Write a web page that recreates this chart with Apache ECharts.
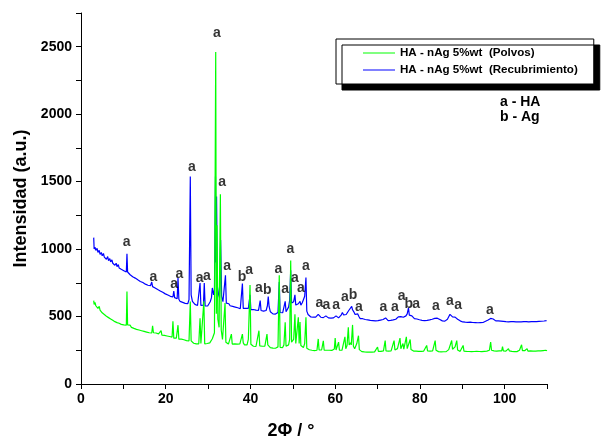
<!DOCTYPE html>
<html><head><meta charset="utf-8">
<script src="https://cdn.jsdelivr.net/npm/echarts@6/dist/echarts.min.js"></script>
<style>html,body{margin:0;padding:0;background:#fff}#c{width:611px;height:445px}</style>
</head><body><div id="c"></div>
<script>
// 2θ, intensity pairs: HA - nAg 5%wt (Recubrimiento)
var recubrimiento = [[3.0,1085],[3.1,1000],[3.3,1015],[3.5,990],[3.8,1005],[4.0,975],[4.3,990],[4.5,960],[4.8,975],[5.0,950],[5.3,968],[5.5,940],[5.8,952],[6.0,925],[6.3,945],[6.5,915],[6.8,930],[7.0,905],[7.3,920],[7.5,895],[7.8,905],[8.0,880],[8.3,895],[8.5,870],[8.8,885],[9.0,860],[9.3,872],[9.5,850],[9.8,862],[10.1,840],[10.4,850],[10.7,830],[10.85,965],[11.0,830],[11.3,822],[11.6,810],[11.9,818],[12.2,795],[12.5,805],[12.8,785],[13.1,795],[13.4,772],[13.7,782],[14.0,760],[14.3,770],[14.6,752],[14.9,760],[15.2,740],[15.5,748],[15.8,732],[16.1,742],[16.4,728],[16.7,756],[16.9,722],[17.2,730],[17.5,712],[17.8,720],[18.1,700],[18.4,710],[18.7,690],[19.0,700],[19.3,680],[19.6,690],[19.9,668],[20.2,678],[20.5,660],[20.8,668],[21.1,650],[21.4,660],[21.7,645],[21.9,688],[22.1,640],[22.4,648],[22.7,632],[22.9,785],[23.1,628],[23.4,612],[23.7,622],[24.0,605],[24.3,615],[24.6,598],[24.9,606],[25.2,595],[25.5,625],[25.8,1538],[26.0,660],[26.3,612],[26.6,598],[26.9,590],[27.2,596],[27.5,582],[27.8,590],[28.1,749],[28.3,582],[28.6,575],[28.9,585],[29.1,749],[29.3,578],[29.6,568],[29.9,578],[30.2,590],[30.5,610],[30.8,640],[31.0,712],[31.3,660],[31.5,700],[31.75,1538],[31.85,900],[32.0,1390],[32.2,720],[32.5,660],[32.7,640],[32.95,1068],[33.2,650],[33.5,610],[33.8,620],[34.1,806],[34.3,600],[34.6,588],[34.9,595],[35.2,580],[35.5,590],[35.8,575],[36.1,585],[36.4,570],[36.7,578],[37.0,565],[37.3,572],[37.6,558],[37.9,570],[38.1,744],[38.3,560],[38.6,552],[38.9,560],[39.2,548],[39.5,560],[39.9,661],[40.1,552],[40.4,545],[40.7,552],[41.0,540],[41.3,548],[41.6,538],[41.9,545],[42.3,618],[42.5,545],[42.8,532],[43.1,540],[43.4,530],[43.7,545],[44.0,580],[44.2,649],[44.4,575],[44.7,535],[45.0,528],[45.3,520],[45.6,526],[45.9,518],[46.2,525],[46.5,530],[46.8,756],[47.0,530],[47.3,522],[47.6,528],[47.9,535],[48.2,613],[48.4,535],[48.7,545],[49.0,570],[49.25,620],[49.5,843],[49.7,600],[50.0,590],[50.2,610],[50.5,661],[50.7,585],[51.0,575],[51.3,595],[51.7,613],[51.9,585],[52.2,600],[52.5,625],[52.8,650],[53.1,790],[53.3,540],[53.6,515],[53.9,508],[54.2,498],[54.5,505],[54.8,495],[55.1,502],[55.4,496],[55.7,505],[56.0,516],[56.3,502],[56.6,495],[56.9,500],[57.2,492],[57.5,498],[57.8,505],[58.1,495],[58.4,490],[58.7,496],[59.0,488],[59.3,494],[59.6,490],[59.9,498],[60.2,505],[60.5,495],[60.8,490],[61.1,498],[61.4,510],[61.7,530],[62.0,512],[62.3,505],[62.6,515],[62.9,528],[63.2,545],[63.5,540],[63.9,576],[64.1,550],[64.4,535],[64.7,515],[65.0,528],[65.3,520],[65.6,500],[65.9,485],[66.2,480],[66.5,484],[66.8,475],[67.1,478],[67.4,470],[67.7,475],[68.0,468],[68.3,472],[68.6,466],[68.9,470],[69.2,464],[69.5,468],[69.8,465],[70.1,470],[70.4,466],[70.7,474],[71.0,470],[71.3,478],[71.6,485],[71.9,490],[72.2,478],[72.5,470],[72.8,466],[73.1,472],[73.4,468],[73.7,475],[74.0,472],[74.3,480],[74.6,488],[74.9,498],[75.2,505],[75.5,500],[75.8,488],[76.1,495],[76.4,490],[76.7,505],[77.0,520],[77.3,565],[77.5,510],[77.8,498],[78.1,505],[78.4,498],[78.7,485],[79.0,478],[79.3,482],[79.6,472],[79.9,476],[80.2,468],[80.5,472],[80.8,465],[81.1,470],[81.4,466],[81.7,472],[82.0,468],[82.3,475],[82.6,472],[82.9,480],[83.2,478],[83.5,486],[83.8,492],[84.1,488],[84.4,482],[84.7,478],[85.0,472],[85.3,468],[85.6,470],[85.9,466],[86.2,472],[86.5,480],[86.8,498],[87.1,516],[87.4,505],[87.7,498],[88.0,492],[88.3,496],[88.6,488],[88.9,480],[89.2,474],[89.5,468],[89.8,465],[90.1,460],[90.4,464],[90.7,458],[91.0,462],[91.3,457],[91.6,462],[91.9,458],[92.2,463],[92.5,456],[92.8,460],[93.1,455],[93.4,460],[93.7,454],[94.0,458],[94.3,455],[94.6,460],[94.9,456],[95.2,462],[95.5,465],[95.8,470],[96.1,474],[96.4,480],[96.7,486],[97.0,478],[97.3,482],[97.6,472],[97.9,468],[98.2,464],[98.5,468],[98.8,462],[99.1,466],[99.4,460],[99.7,464],[100.0,458],[100.3,462],[100.6,457],[100.9,461],[101.2,456],[101.5,462],[101.8,458],[102.1,463],[102.4,457],[102.7,461],[103.0,456],[103.3,460],[103.6,455],[103.9,461],[104.2,457],[104.5,462],[104.8,458],[105.1,463],[105.4,457],[105.7,461],[106.0,458],[106.3,463],[106.6,459],[106.9,462],[107.2,458],[107.5,463],[107.8,459],[108.1,464],[108.4,460],[108.7,465],[109.0,462],[109.3,467],[109.6,464],[109.9,470],[110.0,472]];

// 2θ, intensity pairs: HA - nAg 5%wt (Polvos)
var polvos = [[3.0,618],[3.1,590],[3.3,605],[3.5,580],[3.8,592],[4.0,560],[4.3,575],[4.5,548],[4.8,560],[5.0,528],[5.3,540],[5.5,515],[5.8,528],[6.0,502],[6.3,515],[6.5,492],[6.8,505],[7.0,482],[7.3,492],[7.5,472],[7.8,482],[8.0,462],[8.3,472],[8.5,455],[8.8,465],[9.0,450],[9.3,458],[9.5,442],[9.8,452],[10.1,438],[10.4,446],[10.7,436],[10.85,685],[11.0,438],[11.3,428],[11.6,436],[11.9,420],[12.2,428],[12.5,412],[12.8,420],[13.1,405],[13.4,414],[13.7,400],[14.0,408],[14.3,395],[14.6,402],[14.9,390],[15.2,396],[15.5,385],[15.8,392],[16.1,380],[16.4,388],[16.7,378],[16.9,431],[17.1,380],[17.4,372],[17.7,378],[18.0,366],[18.3,372],[18.6,360],[18.9,395],[19.1,362],[19.4,355],[19.7,360],[20.0,350],[20.3,356],[20.6,346],[20.9,352],[21.2,342],[21.5,348],[21.7,465],[21.9,340],[22.2,335],[22.5,340],[22.9,436],[23.1,332],[23.4,326],[23.7,332],[24.0,322],[24.3,328],[24.6,318],[24.9,322],[25.2,312],[25.5,320],[25.8,611],[26.0,320],[26.3,308],[26.6,302],[26.9,306],[27.2,298],[27.5,304],[27.8,298],[28.1,487],[28.3,300],[28.6,295],[29.0,613],[29.2,298],[29.5,292],[29.8,300],[30.1,296],[30.4,305],[30.7,315],[31.0,335],[31.3,345],[31.5,380],[31.8,2461],[31.95,520],[32.1,1177],[32.3,480],[32.6,420],[32.9,1407],[33.1,400],[33.4,330],[33.7,320],[34.0,600],[34.2,310],[34.5,300],[34.8,296],[35.1,300],[35.5,370],[35.7,296],[36.0,292],[36.3,298],[36.6,290],[36.9,295],[37.2,288],[37.5,298],[37.8,310],[38.1,370],[38.3,305],[38.6,290],[38.9,284],[39.2,290],[39.5,330],[39.9,734],[40.1,295],[40.4,284],[40.7,280],[41.0,286],[41.3,278],[41.6,284],[42.0,395],[42.2,282],[42.5,276],[42.8,280],[43.1,274],[43.4,280],[43.9,370],[44.1,290],[44.4,278],[44.7,270],[45.0,274],[45.3,266],[45.6,272],[45.9,265],[46.2,270],[46.5,275],[46.8,806],[47.0,272],[47.3,264],[47.6,270],[47.9,290],[48.2,458],[48.4,280],[48.7,272],[49.0,290],[49.25,330],[49.5,916],[49.7,310],[50.0,300],[50.2,330],[50.5,516],[50.7,300],[51.0,290],[51.3,494],[51.5,300],[51.7,460],[51.9,285],[52.2,275],[52.5,270],[52.8,300],[53.1,494],[53.3,265],[53.6,258],[53.9,254],[54.2,258],[54.5,250],[54.8,256],[55.1,248],[55.4,254],[55.7,250],[56.0,334],[56.2,252],[56.5,246],[56.8,252],[57.2,320],[57.4,250],[57.7,244],[58.0,250],[58.3,244],[58.6,250],[58.9,243],[59.2,249],[59.5,245],[59.8,260],[60.0,340],[60.2,252],[60.5,248],[60.8,310],[61.0,250],[61.3,258],[61.6,250],[61.9,262],[62.3,350],[62.5,262],[62.8,285],[63.1,421],[63.3,290],[63.6,305],[63.8,290],[64.1,438],[64.3,280],[64.6,262],[64.9,270],[65.1,300],[65.5,358],[65.7,255],[66.0,245],[66.3,240],[66.6,244],[66.9,238],[67.2,242],[67.5,237],[67.8,241],[68.1,236],[68.4,240],[68.7,236],[69.0,241],[69.3,238],[69.6,244],[70.0,274],[70.2,242],[70.5,238],[70.8,242],[71.1,238],[71.4,245],[71.8,322],[72.0,245],[72.3,240],[72.6,244],[72.9,240],[73.2,246],[73.5,250],[73.9,322],[74.1,252],[74.4,256],[74.7,262],[75.0,270],[75.3,340],[75.5,262],[75.8,275],[76.0,300],[76.2,258],[76.5,265],[76.8,349],[77.0,262],[77.3,270],[77.7,330],[77.9,255],[78.2,248],[78.5,244],[78.8,240],[79.1,244],[79.4,238],[79.7,242],[80.0,237],[80.3,242],[80.6,238],[80.9,244],[81.2,250],[81.6,286],[81.8,245],[82.1,240],[82.4,244],[82.7,238],[83.0,245],[83.3,252],[83.6,322],[83.8,250],[84.1,244],[84.4,240],[84.7,244],[85.0,238],[85.3,243],[85.6,239],[85.9,244],[86.2,240],[86.5,246],[86.8,255],[87.1,265],[87.5,322],[87.7,258],[88.0,252],[88.3,275],[88.7,322],[88.9,252],[89.2,246],[89.5,242],[89.8,248],[90.2,286],[90.4,244],[90.7,238],[91.0,242],[91.3,237],[91.6,241],[91.9,236],[92.2,240],[92.5,236],[92.8,241],[93.1,237],[93.4,242],[93.7,237],[94.0,241],[94.3,236],[94.6,240],[94.9,237],[95.2,242],[95.5,238],[95.8,244],[96.1,242],[96.4,250],[96.7,310],[96.9,250],[97.2,262],[97.5,246],[97.8,252],[98.1,244],[98.4,256],[98.7,246],[99.0,250],[99.3,246],[99.5,278],[99.7,246],[100.0,252],[100.3,244],[100.6,250],[100.9,262],[101.1,246],[101.4,252],[101.7,242],[102.0,246],[102.3,240],[102.6,245],[102.9,240],[103.2,246],[103.5,250],[103.8,260],[104.0,291],[104.2,248],[104.5,242],[104.8,248],[105.1,255],[105.3,262],[105.5,244],[105.8,240],[106.1,245],[106.4,238],[106.7,243],[107.0,238],[107.3,244],[107.6,239],[107.9,245],[108.2,240],[108.5,246],[108.8,242],[109.1,248],[109.4,244],[109.7,250],[110.0,246]];

// peak annotations
var labelX = [10.8,17.1,22.0,23.2,26.2,28.0,29.7,32.1,33.3,34.5,38.0,39.7,42.0,44.0,46.6,48.2,49.4,50.5,51.9,53.1,56.3,57.9,60.2,62.3,64.2,65.6,71.4,74.1,75.7,77.4,79.1,83.8,87.1,89.0,96.5];
var labelY = [1054,790,739,814,1606,787,797,2600,1497,874,790,843,710,695,855,705,996,787,710,872,601,584,584,647,661,569,569,567,649,589,589,576,613,584,545];
var labelText = ['a','a','a','a','a','a','a','a','a','a','b','a','a','b','a','a','a','a','a','a','a','a','a','a','b','a','a','a','a','b','a','a','a','a','a'];

var seriesNames = ['HA - nAg 5%wt  (Polvos)', 'HA - nAg 5%wt  (Recubrimiento)'];
var keyLines = ['a - HA', 'b - Ag'];

var FONT = '"Liberation Sans", Arial, sans-serif';
var labelData = labelX.map(function (x, i) { return { value: [x, labelY[i]], name: labelText[i] }; });

var chart = echarts.init(document.getElementById('c'), null, { renderer: 'canvas' });
chart.setOption({
  animation: false,
  backgroundColor: '#ffffff',
  textStyle: { fontFamily: FONT },
  grid: { left: 81, right: 64, top: 13, bottom: 54, containLabel: false },
  legend: {
    data: seriesNames,
    orient: 'vertical',
    left: 336, top: 39,
    padding: [8, 16, 8, 27],
    itemGap: 5,
    icon: 'rect',
    itemWidth: 32, itemHeight: 1,
    backgroundColor: '#ffffff',
    borderColor: '#000000', borderWidth: 1,
    shadowColor: '#000000', shadowBlur: 0, shadowOffsetX: 6, shadowOffsetY: 6,
    textStyle: { fontFamily: FONT, fontWeight: 'bold', fontSize: 11.6, lineHeight: 10, color: '#000' }
  },
  graphic: [{
    type: 'text', left: 500, top: 95,
    style: { text: keyLines.join('\n'), font: 'bold 14px ' + FONT, fill: '#000', lineHeight: 15 }
  }],
  xAxis: {
    type: 'value', min: 0, max: 110, interval: 10,
    name: '2\u03A6 / \u00B0', nameLocation: 'middle', nameGap: 38,
    nameTextStyle: { fontFamily: FONT, fontWeight: 'bold', fontSize: 18, color: '#000', padding: [0, 46, 0, 0] },
    axisLine: { show: true, lineStyle: { color: '#000', width: 1 } },
    axisTick: { show: true, length: 5, lineStyle: { color: '#000' } },
    axisLabel: { margin: 8, fontFamily: FONT, fontWeight: 'bold', fontSize: 14, color: '#000',
      formatter: function (v) { return v % 20 === 0 ? String(v) : ''; } },
    splitLine: { show: false }
  },
  yAxis: {
    type: 'value', min: 0, max: 2750, interval: 250,
    name: 'Intensidad (a.u.)', nameLocation: 'middle', nameGap: 50, nameRotate: 90,
    nameTextStyle: { fontFamily: FONT, fontWeight: 'bold', fontSize: 18, color: '#000' },
    axisLine: { show: true, lineStyle: { color: '#000', width: 1 } },
    axisTick: { show: true, length: 5, lineStyle: { color: '#000' } },
    axisLabel: { margin: 9, fontFamily: FONT, fontWeight: 'bold', fontSize: 14, color: '#000',
      formatter: function (v) { return v % 500 === 0 ? String(v) : ''; } },
    splitLine: { show: false }
  },
  series: [
    { name: seriesNames[1], type: 'line', data: recubrimiento, symbol: 'none', z: 2,
      lineStyle: { color: '#0000ff', width: 1.2 }, itemStyle: { color: '#0000ff' } },
    { name: seriesNames[0], type: 'line', data: polvos, symbol: 'none', z: 3,
      lineStyle: { color: '#00ff00', width: 1.2 }, itemStyle: { color: '#00ff00' } },
    { name: 'labels', type: 'scatter', data: labelData, symbolSize: 1, z: 4,
      itemStyle: { color: 'rgba(0,0,0,0)' }, silent: true,
      label: { show: true, position: 'inside', formatter: '{b}', color: '#000',
        fontFamily: FONT, fontWeight: 'bold', fontSize: 14 } }
  ]
});
</script></body></html>
